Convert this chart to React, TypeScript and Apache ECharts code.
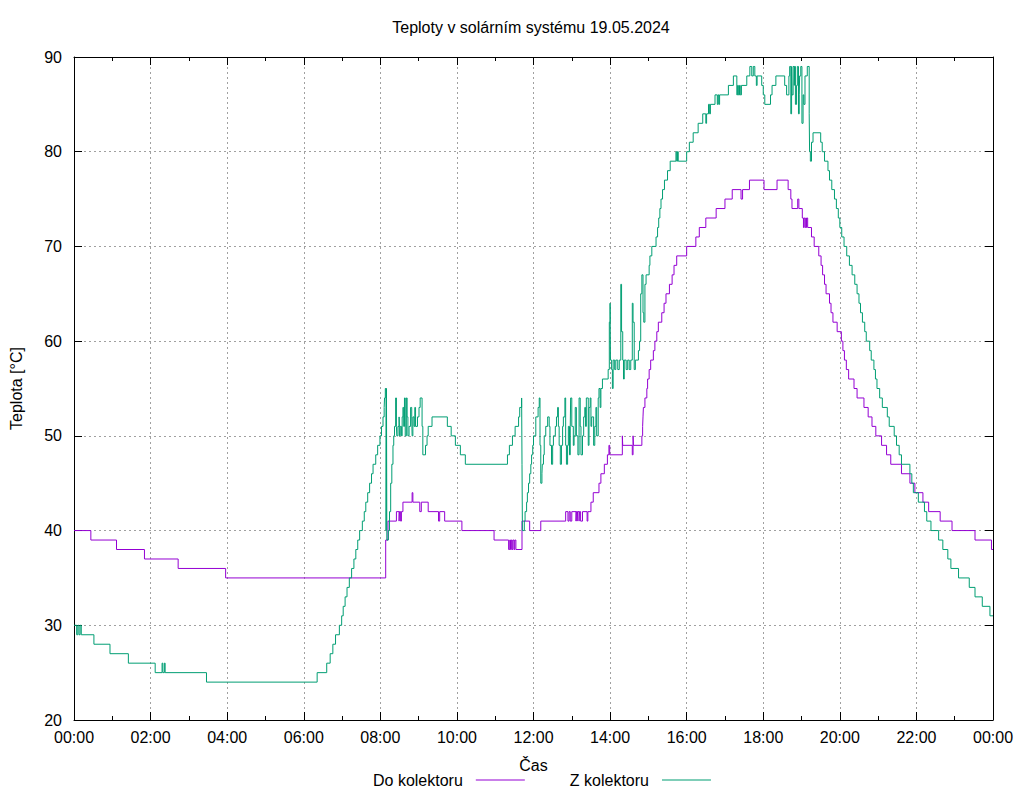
import React, { useEffect, useRef } from "react";
import * as echarts from "echarts";

const chartTitle = "Teploty v solárním systému 19.05.2024";
const seriesNames = ["Do kolektoru", "Z kolektoru"];
const xName = "Čas";
const yName = "Teplota [°C]";

// [hour of day, °C]
const doKolektoru: [number, number][] = [
  [0, 40], [0.44, 39], [1.11, 38], [1.84, 37], [2.72, 36], [3.96, 35],
  [8.14, 39], [8.2, 41], [8.42, 42], [8.49, 41], [8.5, 42], [8.53, 41], [8.55, 42], [8.59, 43],
  [8.83, 44], [8.85, 43], [9.03, 42], [9.07, 43], [9.25, 42], [9.52, 41], [9.55, 42], [9.68, 41],
  [10.13, 40], [10.97, 39], [11.35, 38], [11.38, 39], [11.4, 38], [11.42, 39], [11.44, 38],
  [11.46, 39], [11.49, 38], [11.51, 39], [11.54, 38], [11.7, 41], [11.9, 40], [12.19, 41],
  [12.84, 42], [12.9, 41], [12.93, 42], [12.96, 41], [13.0, 42], [13.11, 41], [13.12, 42],
  [13.14, 41], [13.15, 42], [13.19, 41], [13.2, 42], [13.23, 41], [13.28, 42], [13.4, 41],
  [13.42, 42], [13.5, 43], [13.56, 44], [13.71, 45], [13.76, 46], [13.85, 47], [13.93, 48],
  [13.97, 49], [13.99, 48], [14.32, 50], [14.33, 49], [14.58, 48], [14.6, 50], [14.61, 49],
  [14.83, 50], [14.85, 51], [14.86, 52], [14.87, 53], [14.91, 54], [14.96, 55], [14.98, 56],
  [15.02, 57], [15.06, 58], [15.13, 59], [15.17, 60], [15.22, 61], [15.26, 62], [15.35, 63],
  [15.41, 64], [15.46, 65], [15.55, 66], [15.62, 67], [15.67, 68], [15.74, 69], [16.0, 70],
  [16.24, 71], [16.33, 72], [16.5, 73], [16.77, 74], [17.0, 75], [17.19, 76], [17.42, 75],
  [17.46, 76], [17.64, 77], [18.02, 76], [18.36, 77], [18.65, 76], [18.72, 75], [18.75, 74],
  [18.9, 75], [18.93, 74], [19.02, 73], [19.05, 72], [19.07, 73], [19.1, 72], [19.13, 73],
  [19.16, 72], [19.26, 71], [19.33, 70], [19.45, 69], [19.51, 68], [19.55, 67], [19.6, 66],
  [19.64, 65], [19.73, 64], [19.77, 63], [19.82, 62], [19.93, 61], [20.04, 60], [20.08, 59],
  [20.12, 58], [20.17, 57], [20.23, 56], [20.37, 55], [20.45, 54], [20.63, 53], [20.74, 52],
  [20.84, 51], [20.94, 50], [21.09, 49], [21.22, 48], [21.33, 47], [21.61, 46], [21.83, 45],
  [21.96, 44], [22.17, 43], [22.32, 42], [22.62, 41], [22.93, 40], [23.53, 39], [23.96, 38],
  [24, 38],
];

const zKolektoru: [number, number][] = [
  [0, 30], [0.07, 29], [0.1, 30], [0.13, 29], [0.16, 30], [0.19, 29], [0.52, 28], [0.94, 27],
  [1.42, 26], [2.12, 25], [2.3, 26], [2.32, 25], [2.36, 26], [2.38, 25], [3.46, 24], [6.35, 25],
  [6.6, 26], [6.69, 27], [6.76, 28], [6.83, 29], [6.93, 30], [6.99, 31], [7.03, 32], [7.08, 33],
  [7.13, 34], [7.19, 35], [7.25, 36], [7.31, 37], [7.36, 38], [7.41, 39], [7.46, 40], [7.53, 41],
  [7.58, 42], [7.62, 43], [7.67, 44], [7.72, 45], [7.77, 46], [7.81, 47], [7.88, 48], [7.93, 49],
  [7.99, 50], [8.03, 51], [8.07, 52], [8.1, 53], [8.11, 54], [8.13, 55], [8.15, 40], [8.16, 55],
  [8.17, 39], [8.21, 40], [8.24, 42], [8.27, 45], [8.3, 47], [8.33, 49], [8.35, 50],
  [8.37, 51], [8.4, 54], [8.42, 51], [8.43, 50], [8.46, 51], [8.49, 52], [8.5, 50], [8.52, 51],
  [8.55, 50], [8.57, 52], [8.59, 53], [8.61, 51], [8.63, 54], [8.65, 50], [8.68, 54], [8.7, 52],
  [8.72, 50], [8.75, 51], [8.79, 53], [8.82, 52], [8.83, 50], [8.85, 52], [8.88, 51], [8.9, 53],
  [8.92, 51], [8.97, 52], [9.01, 53], [9.04, 54], [9.09, 51], [9.11, 48], [9.18, 49], [9.22, 50],
  [9.25, 51], [9.35, 52], [9.75, 51], [9.85, 50], [9.96, 49], [10.09, 48], [10.22, 47],
  [11.32, 48], [11.37, 49], [11.45, 50], [11.52, 51], [11.61, 52], [11.64, 53], [11.69, 54],
  [11.7, 47], [11.71, 40], [11.76, 41], [11.78, 42], [11.82, 43], [11.84, 44], [11.87, 45],
  [11.9, 46], [11.93, 47], [11.95, 48], [11.98, 49], [12.0, 50],
  [12.06, 52], [12.12, 53], [12.15, 54], [12.17, 49], [12.19, 45], [12.22, 46], [12.23, 47],
  [12.26, 48], [12.28, 50], [12.32, 51], [12.37, 52], [12.41, 51], [12.43, 49], [12.47, 47],
  [12.5, 49], [12.52, 50], [12.57, 51], [12.6, 52], [12.63, 53], [12.65, 51], [12.67, 49],
  [12.7, 47], [12.73, 49], [12.76, 51], [12.78, 52], [12.82, 54], [12.84, 49], [12.86, 47],
  [12.89, 49], [12.91, 51], [12.94, 48], [12.96, 51], [12.97, 54], [13.0, 51], [13.04, 49],
  [13.06, 50], [13.09, 53], [13.12, 50], [13.16, 48], [13.19, 54], [13.22, 51], [13.24, 48],
  [13.28, 50], [13.31, 52], [13.34, 53], [13.36, 51], [13.38, 54], [13.43, 49], [13.45, 53],
  [13.48, 54], [13.5, 51], [13.52, 52], [13.57, 49], [13.6, 51], [13.63, 53], [13.65, 50],
  [13.69, 54], [13.71, 55], [13.74, 53], [13.76, 55], [13.8, 56], [13.95, 57], [13.98, 62],
  [14.0, 64], [14.01, 58], [14.04, 57], [14.06, 55], [14.08, 58], [14.12, 57], [14.15, 58],
  [14.2, 57], [14.24, 58], [14.28, 66], [14.3, 61], [14.33, 58], [14.35, 56], [14.37, 58],
  [14.42, 57], [14.46, 58], [14.5, 57], [14.54, 58], [14.58, 64], [14.6, 62], [14.63, 57],
  [14.66, 58], [14.74, 59], [14.77, 60], [14.8, 65], [14.83, 67], [14.86, 63], [14.88, 62],
  [14.91, 66], [14.94, 67], [15.02, 68], [15.04, 69], [15.09, 70], [15.2, 71], [15.24, 72],
  [15.27, 73], [15.3, 74], [15.33, 75], [15.37, 76], [15.42, 77], [15.5, 78], [15.57, 79],
  [15.72, 80], [15.74, 79], [15.76, 80], [15.78, 79], [16.0, 80], [16.07, 81], [16.17, 82],
  [16.3, 83], [16.42, 84], [16.5, 83], [16.52, 84], [16.57, 85], [16.6, 84], [16.62, 85],
  [16.74, 86], [16.8, 85], [16.82, 86], [16.84, 85], [16.86, 86], [17.09, 87], [17.22, 88],
  [17.31, 86], [17.33, 87], [17.35, 86], [17.38, 87], [17.4, 86], [17.43, 87], [17.57, 88],
  [17.65, 89], [17.7, 88], [17.74, 89], [17.78, 88], [17.82, 87], [17.84, 88], [17.96, 87],
  [18.0, 86], [18.04, 85], [18.19, 86], [18.23, 87], [18.33, 88], [18.56, 87], [18.61, 86],
  [18.67, 88], [18.69, 89], [18.72, 84], [18.74, 89], [18.75, 86], [18.78, 89], [18.81, 87],
  [18.82, 89], [18.84, 85], [18.87, 87], [18.89, 89], [18.92, 84], [18.94, 86], [18.95, 88],
  [18.98, 89], [19.01, 83], [19.04, 86], [19.06, 85], [19.09, 88], [19.15, 89], [19.2, 84],
  [19.21, 80], [19.23, 79], [19.26, 81], [19.3, 82], [19.5, 81], [19.54, 80], [19.6, 79],
  [19.69, 78], [19.73, 77], [19.79, 76], [19.86, 75], [19.91, 74], [19.96, 73], [20.0, 72],
  [20.05, 71], [20.11, 70], [20.18, 69], [20.25, 68], [20.32, 67], [20.39, 66], [20.45, 65],
  [20.5, 64], [20.54, 63], [20.59, 62], [20.65, 61], [20.69, 60], [20.78, 59], [20.82, 58],
  [20.89, 57], [20.93, 56], [20.97, 55], [21.04, 54], [21.11, 53], [21.24, 52], [21.29, 51],
  [21.42, 50], [21.48, 49], [21.55, 48], [21.61, 47], [21.83, 46], [21.88, 45], [21.92, 44],
  [22.05, 43], [22.21, 42], [22.27, 41], [22.38, 40], [22.58, 39], [22.69, 38], [22.82, 37],
  [22.9, 36], [23.1, 35], [23.38, 34], [23.53, 33], [23.72, 32], [23.92, 31], [24, 31],
];

const xMin = 0, xMax = 24, xStep = 2;
const yMin = 20, yMax = 90, yStep = 10;

const FONT = "'Liberation Sans', Arial, sans-serif";
const fmtHour = (v: number) => String(Math.round(v) % 24).padStart(2, "0") + ":00";

export default function App() {
  const ref = useRef<HTMLDivElement>(null);
  useEffect(() => {
    if (!ref.current) return;
    const chart = echarts.init(ref.current, null, { renderer: "svg" });
    const gridLine = { show: true, lineStyle: { color: "#a0a0a0", width: 1, type: [2, 3] as any } };
    const axisLine = { show: true, onZero: false, lineStyle: { color: "#000", width: 1 } };
    const tick = { show: true, inside: true, length: 8, lineStyle: { color: "#000" } };
    const minor = { show: true, splitNumber: 2, length: 4, lineStyle: { color: "#000" } };
    chart.setOption({
      animation: false,
      backgroundColor: "#fff",
      textStyle: { fontFamily: FONT },
      title: {
        text: chartTitle,
        left: 531,
        textAlign: "center",
        top: 19,
        padding: 0,
        textStyle: { fontFamily: FONT, fontSize: 16, fontWeight: "normal", color: "#000" },
      },
      legend: {
        data: seriesNames,
        left: 373,
        top: 772,
        padding: 0,
        align: "right",
        icon: "rect",
        itemWidth: 49,
        itemHeight: 1,
        itemGap: 45,
        textStyle: { fontFamily: FONT, fontSize: 16, color: "#000", padding: [0, 8, 0, 0] },
      },
      grid: { left: 74, right: 31, top: 57, bottom: 80, containLabel: false },
      xAxis: [
        {
          type: "value", min: xMin, max: xMax, interval: xStep, position: "bottom",
          name: xName, nameLocation: "middle", nameGap: 37,
          nameTextStyle: { fontFamily: FONT, fontSize: 16, color: "#000" },
          axisLine, axisTick: tick, minorTick: minor, splitLine: gridLine,
          axisLabel: { formatter: fmtHour, fontFamily: FONT, fontSize: 16, color: "#000", margin: 9 },
        },
        {
          type: "value", min: xMin, max: xMax, interval: xStep, position: "top", z: 3,
          axisLine, axisTick: tick, minorTick: minor, splitLine: { show: false },
          axisLabel: { show: false },
        },
      ],
      yAxis: [
        {
          type: "value", min: yMin, max: yMax, interval: yStep, position: "left",
          name: yName, nameLocation: "middle", nameGap: 50,
          nameTextStyle: { fontFamily: FONT, fontSize: 16, color: "#000" },
          axisLine, axisTick: tick, splitLine: gridLine,
          axisLabel: { fontFamily: FONT, fontSize: 16, color: "#000", margin: 12 },
        },
        {
          type: "value", min: yMin, max: yMax, interval: yStep, position: "right", z: 3,
          axisLine, axisTick: tick, splitLine: { show: false }, axisLabel: { show: false },
        },
      ],
      series: [
        {
          name: seriesNames[0], type: "line", step: "end", symbol: "none",
          data: doKolektoru, color: "#9400d3",
          lineStyle: { color: "#9400d3", width: 1 }, xAxisIndex: 0, yAxisIndex: 0,
        },
        {
          name: seriesNames[1], type: "line", step: "end", symbol: "none",
          data: zKolektoru, color: "#009e73",
          lineStyle: { color: "#009e73", width: 1 }, xAxisIndex: 0, yAxisIndex: 0,
        },
      ],
    });
    return () => chart.dispose();
  }, []);
  return (
    <div
      ref={ref}
      style={{ position: "fixed", left: 0, top: 0, width: 1024, height: 800, background: "#fff" }}
    />
  );
}
